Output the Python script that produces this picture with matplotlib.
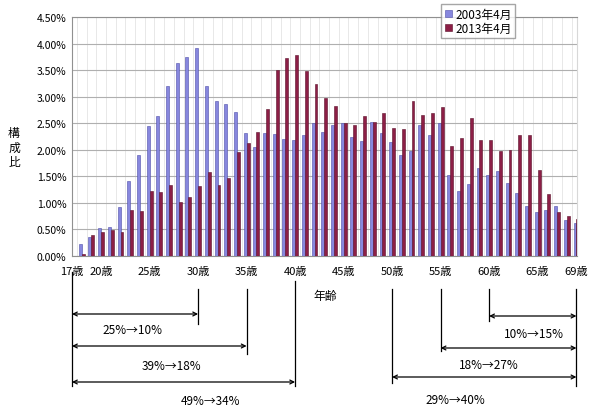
import matplotlib.pyplot as plt
import numpy as np
from matplotlib.transforms import blended_transform_factory
from matplotlib.patches import Patch

plt.rcParams['font.family'] = ['Noto Sans CJK JP', 'DejaVu Sans']

# 年齢 18..69
ages = list(range(18, 70))
share_2003 = [0.23, 0.35, 0.52, 0.55, 0.93, 1.42, 1.90, 2.44, 2.63, 3.20,
              3.64, 3.75, 3.91, 3.21, 2.92, 2.86, 2.72, 2.32, 2.06, 2.31,
              2.29, 2.20, 2.18, 2.28, 2.50, 2.34, 2.46, 2.51, 2.25, 2.16,
              2.53, 2.32, 2.15, 1.91, 1.97, 2.46, 2.27, 2.51, 1.52, 1.23,
              1.36, 1.65, 1.52, 1.60, 1.38, 1.18, 0.95, 0.82, 0.87, 0.95,
              0.68, 0.62]
share_2013 = [0.03, 0.39, 0.46, 0.49, 0.46, 0.87, 0.85, 1.23, 1.20, 1.34,
              1.01, 1.11, 1.31, 1.58, 1.33, 1.46, 1.95, 2.13, 2.33, 2.77,
              3.51, 3.72, 3.78, 3.49, 3.24, 2.97, 2.83, 2.51, 2.47, 2.63,
              2.52, 2.70, 2.41, 2.39, 2.92, 2.66, 2.69, 2.80, 2.08, 2.22,
              2.59, 2.18, 2.18, 1.97, 1.99, 2.28, 2.27, 1.61, 1.17, 0.82,
              0.76, 0.70]
series_labels = ['2003年4月', '2013年4月']
tick_ages = [17, 20, 25, 30, 35, 40, 45, 50, 55, 60, 65, 69]

# (始点, 終点, テキスト, 矢印のy, テキストのx, テキストのy)
ranges = [
    (17, 30, '25%→10%', 315, 23.2, 330),
    (17, 35, '39%→18%', 347, 27.3, 367),
    (17, 40, '49%→34%', 383, 31.3, 402),
    (60, 69, '10%→15%', 317, 64.6, 335),
    (55, 69, '18%→27%', 349, 60.0, 366),
    (50, 69, '29%→40%', 378, 56.5, 401),
]
# 縦線 (年齢, 上端, 下端)
vlines = [(17, 273, 387), (30, 290, 325), (35, 290, 355), (40, 282, 387),
          (50, 290, 384), (55, 290, 352), (60, 290, 322), (69, 290, 387)]

W, H = 592, 410
fig = plt.figure(figsize=(W / 100, H / 100), dpi=100)
ax = fig.add_axes([72 / W, 1 - 257 / H, 505 / W, 239 / H])

x = np.array(ages)
bw = 0.3
blue, blue_edge = '#8787DE', '#4E4EA8'
red, red_edge = '#8C1E46', '#5A0F28'
ax.bar(x - bw / 2, share_2003, bw, color=blue, edgecolor=blue_edge, linewidth=0.4,
       zorder=3, label=series_labels[0])
ax.bar(x + bw / 2, share_2013, bw, color=red, edgecolor=red_edge, linewidth=0.4,
       zorder=3, label=series_labels[1])

ax.set_xlim(17, 69.06)
ax.set_ylim(0, 4.5)
ax.set_yticks(np.arange(0, 4.51, 0.5))
ax.set_yticklabels(['%.2f%%' % v for v in np.arange(0, 4.51, 0.5)], fontsize=7.5)
ax.yaxis.grid(True, color='#AFAFAF', lw=0.8, zorder=0)
for a in range(17, 70):
    ax.axvline(a + 0.5, color='#E4E4E4', lw=0.6, zorder=0)
ax.set_xticks(tick_ages)
ax.set_xticklabels(['%d歳' % a for a in tick_ages], fontsize=8)
ax.tick_params(axis='both', length=0, pad=4)
ax.tick_params(axis='x', pad=7)
for s in ax.spines.values():
    s.set_color('#909090')
    s.set_linewidth(0.8)
ax.spines['right'].set_color('#D8D8D8')

fig.text(14 / W, 1 - 148 / H, '構\n成\n比', fontsize=8.5, ha='center', va='center',
         linespacing=1.15)

trans = blended_transform_factory(ax.transData, fig.transFigure)
fy = lambda px: 1 - px / H
ax.text(43.1, fy(297), '年齢', transform=trans, fontsize=8.5, ha='center', va='center')

for a, y0, y1 in vlines:
    ax.plot([a, a], [fy(y0), fy(y1)], transform=trans, color='black', lw=0.9,
            clip_on=False)
for a0, a1, txt, ay, tx, ty in ranges:
    ax.annotate('', xy=(a1, fy(ay)), xytext=(a0, fy(ay)), xycoords=trans,
                textcoords=trans, annotation_clip=False,
                arrowprops=dict(arrowstyle='<->', lw=0.9, color='black',
                                shrinkA=0, shrinkB=0, mutation_scale=7))
    ax.text(tx, fy(ty), txt, transform=trans, fontsize=8.5, ha='center', va='center')

ax.set_xlim(17, 69.06)
ax.set_ylim(0, 4.5)

handles = [Patch(facecolor=blue, edgecolor=blue_edge, lw=0.4),
           Patch(facecolor=red, edgecolor=red_edge, lw=0.4)]
fig.legend(handles, series_labels, loc='upper left',
           bbox_to_anchor=(441 / W, 1 - 5 / H), fontsize=8.5, frameon=True,
           fancybox=False, edgecolor='#909090', handlelength=0.6, handleheight=0.6,
           handletextpad=0.3, borderpad=0.3, labelspacing=0.1, borderaxespad=0)

fig.savefig('out.png', dpi=100)
